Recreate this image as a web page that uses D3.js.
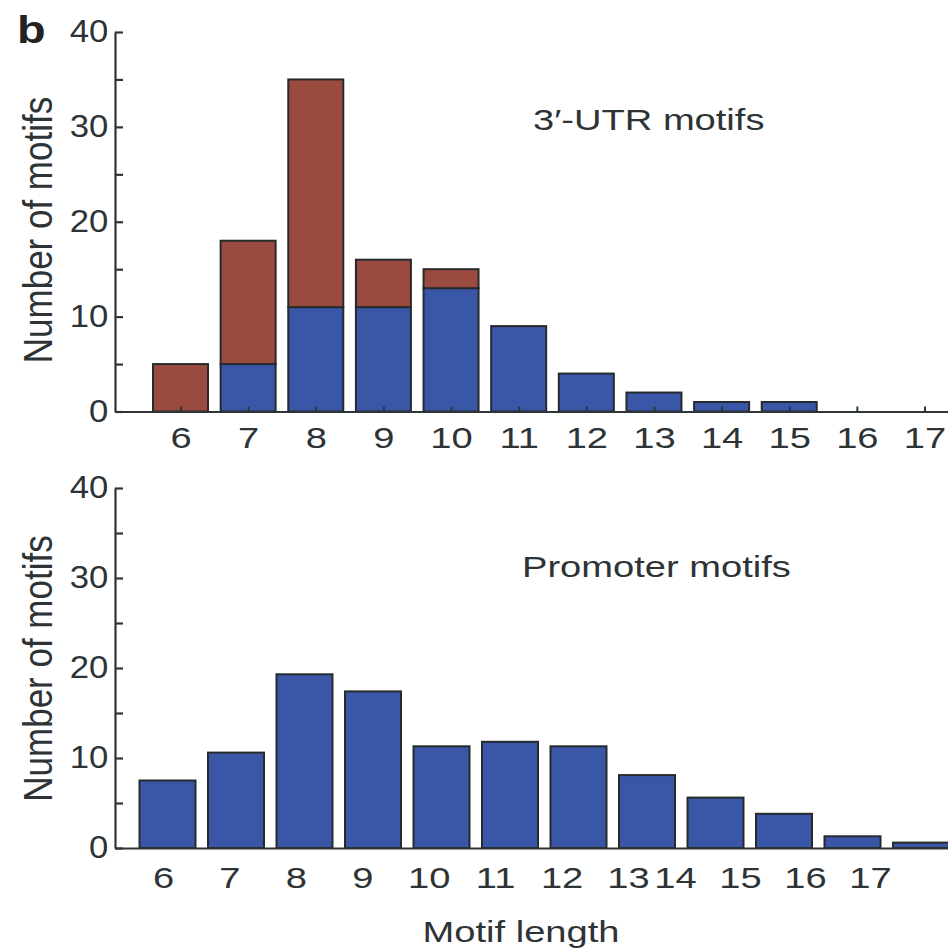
<!DOCTYPE html>
<html>
<head>
<meta charset="utf-8">
<script src="https://cdn.jsdelivr.net/npm/d3@7"></script>
<style>
  body { margin: 0; background: #fff; }
  text { font-family: "Liberation Sans", Arial, sans-serif; fill: #2e3336; }
</style>
</head>
<body>
<div id="chart"></div>
<script>
// motif lengths on the x axis
const lengths = [6, 7, 8, 9, 10, 11, 12, 13, 14, 15, 16, 17];

// 3'-UTR motifs, stacked: blue part at the bottom, red part on top
const utrBlue = [0, 5, 11, 11, 13, 9, 4, 2, 1, 1, 0, 0];
const utrRed  = [5, 13, 24, 5, 2, 0, 0, 0, 0, 0, 0, 0];

// promoter motifs
const promoter = [7.5, 10.6, 19.3, 17.4, 11.3, 11.8, 11.3, 8.1, 5.6, 3.8, 1.3, 0.6];

const yTicks = [0, 5, 10, 15, 20, 25, 30, 35, 40];

const width = 948, height = 951;
const blue = "#3a56a7", red = "#9b4a3f", edge = "#262a2c", axisColor = "#2e3538";
// the printed figure is stretched sideways, so the glyphs are too
const stretch = 1.27;

const svg = d3.select("#chart")
    .append("svg")
    .attr("width", width)
    .attr("height", height);

svg.append("rect").attr("width", width).attr("height", height).attr("fill", "#fff");

const axisX0 = 115;

function styleTickText(sel, sx, size) {
    sel.attr("font-size", size || 30)
        .attr("font-family", "Liberation Sans, Arial, sans-serif")
        .attr("fill", "#2e3336")
        .attr("transform", `scale(${sx || stretch},1)`);
}

function yAxis(g, y) {
    g.attr("transform", `translate(${axisX0},0)`)
        .call(d3.axisLeft(y)
            .tickValues(yTicks)
            .tickSize(-8)
            .tickSizeOuter(0)
            .tickPadding(6)
            .tickFormat(d => d % 10 === 0 ? d : ""));
    g.select(".domain").attr("stroke", axisColor).attr("stroke-width", 2.2);
    g.selectAll(".tick line").attr("stroke", axisColor).attr("stroke-width", 2.2);
    g.selectAll(".tick text").call(styleTickText, 1.12, 31);
}

function label(g, x, y, txt, anchor) {
    return g.append("text")
        .attr("transform", `translate(${x},${y}) scale(${stretch},1)`)
        .attr("text-anchor", anchor || "start")
        .attr("font-size", 30)
        .text(txt);
}

function yLabel(g, cy) {
    return g.append("text")
        .attr("transform", `translate(52,${cy}) rotate(-90) scale(1,1.17)`)
        .attr("text-anchor", "middle")
        .attr("font-size", 35)
        .text("Number of motifs");
}

// ---------- top panel: 3'-UTR motifs ----------
const xTop = d3.scaleLinear().domain([6, 17]).range([180.5, 924.5]);
const yTop = d3.scaleLinear().domain([0, 40]).range([411.5, 32]);
const barTop = 55;

const upper = svg.append("g");

const utr = lengths.map((len, i) => ({ len, blue: utrBlue[i], red: utrRed[i] }));

upper.selectAll(".blue")
    .data(utr.filter(d => d.blue > 0))
    .join("rect")
    .attr("x", d => xTop(d.len) - barTop / 2)
    .attr("y", d => yTop(d.blue))
    .attr("width", barTop)
    .attr("height", d => yTop(0) - yTop(d.blue))
    .attr("fill", blue)
    .attr("stroke", edge)
    .attr("stroke-width", 2);

upper.selectAll(".red")
    .data(utr.filter(d => d.red > 0))
    .join("rect")
    .attr("x", d => xTop(d.len) - barTop / 2)
    .attr("y", d => yTop(d.blue + d.red))
    .attr("width", barTop)
    .attr("height", d => yTop(d.blue) - yTop(d.blue + d.red))
    .attr("fill", red)
    .attr("stroke", edge)
    .attr("stroke-width", 2);

const xTopAxisScale = xTop.copy()
    .domain([xTop.invert(axisX0), xTop.invert(width + 10)])
    .range([axisX0, width + 10]);

const gxTop = upper.append("g")
    .attr("transform", `translate(0,${yTop(0)})`)
    .call(d3.axisBottom(xTopAxisScale)
        .tickValues(lengths)
        .tickSize(-5)
        .tickSizeOuter(0)
        .tickPadding(15)
        .tickFormat(d3.format("d")));
gxTop.select(".domain").attr("stroke", axisColor).attr("stroke-width", 2.2);
gxTop.selectAll(".tick line").attr("stroke", axisColor).attr("stroke-width", 2);
gxTop.selectAll(".tick text").call(styleTickText);

upper.append("g").call(yAxis, yTop);

label(upper, 533, 130, "3\u2032-UTR motifs");
yLabel(upper, (95 + 365) / 2);

svg.append("text")
    .attr("transform", `translate(17,43) scale(1.2,1)`)
    .attr("font-size", 39)
    .attr("font-weight", "bold")
    .style("fill", "#222")
    .text("b");

// ---------- bottom panel: promoter motifs ----------
const xBot = d3.scaleLinear().domain([6, 17]).range([167.5, 921]);
// the printed tick labels do not sit under the bar centres in the original figure
const xBotLabel = d3.scaleLinear().domain([6, 13, 14, 17]).range([163, 628, 675, 870]);
const yBot = d3.scaleLinear().domain([0, 40]).range([848, 488]);
const barBot = 56;

const lower = svg.append("g");

lower.selectAll("rect")
    .data(lengths.map((len, i) => ({ len, v: promoter[i] })))
    .join("rect")
    .attr("x", d => xBot(d.len) - barBot / 2)
    .attr("y", d => yBot(d.v))
    .attr("width", barBot)
    .attr("height", d => yBot(0) - yBot(d.v))
    .attr("fill", blue)
    .attr("stroke", edge)
    .attr("stroke-width", 2);

const xBotAxisScale = xBotLabel.copy()
    .domain([xBotLabel.invert(axisX0), 6, 13, 14, 17, 17 + (width + 10 - 870) / 65])
    .range([axisX0, 163, 628, 675, 870, width + 10]);

const gxBot = lower.append("g")
    .attr("transform", `translate(0,${yBot(0)})`)
    .call(d3.axisBottom(xBotAxisScale)
        .tickValues(lengths)
        .tickSize(0)
        .tickSizeOuter(0)
        .tickPadding(19)
        .tickFormat(d3.format("d")));
gxBot.select(".domain").attr("stroke", axisColor).attr("stroke-width", 2.2);
gxBot.selectAll(".tick text").call(styleTickText);

lower.append("g").call(yAxis, yBot);

label(lower, 522, 577, "Promoter motifs");
yLabel(lower, (532 + 805) / 2);
label(lower, 521, 942, "Motif length", "middle");
</script>
</body>
</html>
